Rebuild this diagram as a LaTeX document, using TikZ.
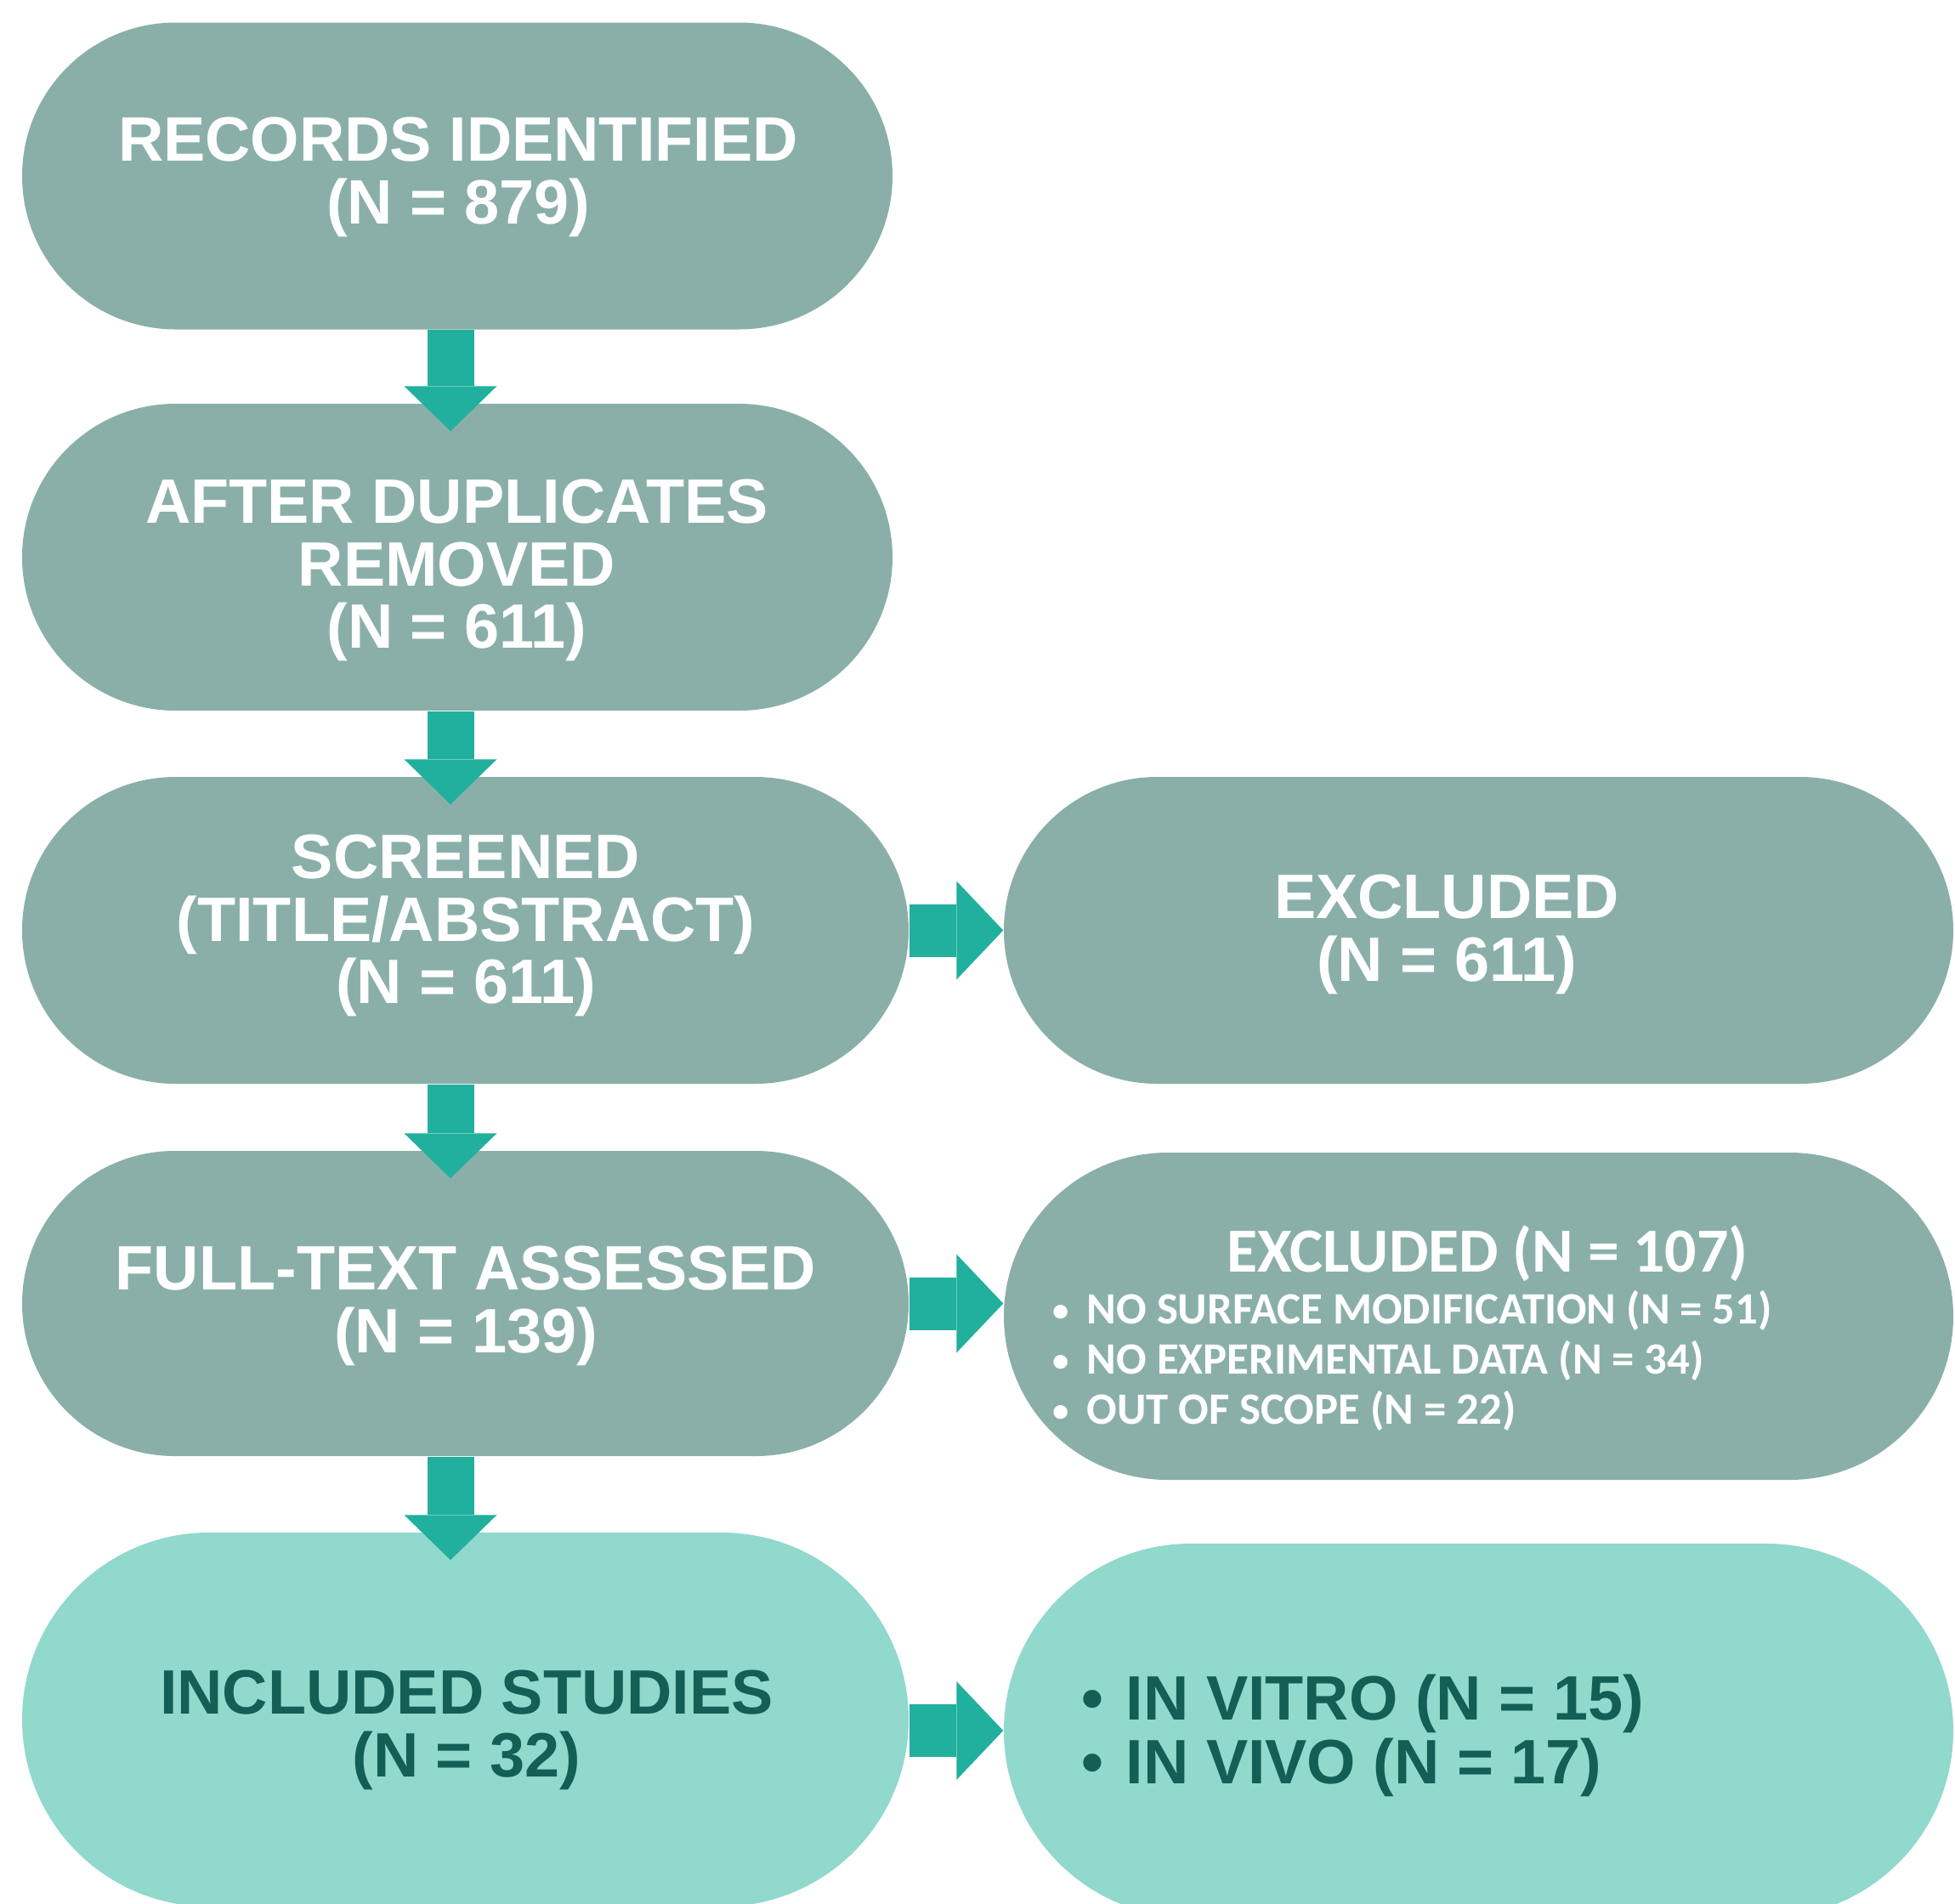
\documentclass[tikz,border=0pt]{standalone}
\usepackage{fontspec}
\setmainfont{Liberation Sans}
\newfontfamily\calib{Carlito}
\usetikzlibrary{shapes.misc,arrows.meta}

\definecolor{boxgrey}{HTML}{8AAFA9}
\definecolor{boxteal}{HTML}{91D8CD}
\definecolor{arrowteal}{HTML}{22B09E}
\definecolor{darkteal}{HTML}{135E55}

\tikzset{
	box/.style={rounded rectangle, inner sep=0pt, fill=boxgrey},
	boxlight/.style={box, fill=boxteal},
	lbl/.style={font=\bfseries\fontsize{21}{21}\selectfont, text=white, align=center, inner sep=0pt},
	lbldark/.style={lbl, text=darkteal},
	lblnarrow/.style={font=\calib\bfseries\fontsize{15}{15}\selectfont, text=white, inner sep=0pt},
	downarrow/.style={draw=arrowteal, line width=5.5mm, -{Triangle[width=10.9mm, length=5.3mm, line width=0pt]}, shorten >=-3.3mm},
	sidearrow/.style={draw=arrowteal, line width=6.2mm, -{Triangle[width=11.6mm, length=5.5mm, line width=0pt]}}
}

\begin{document}
\begin{tikzpicture}
		\useasboundingbox (0,0) rectangle (23,-22.39);

		% boxes
		\node[box, minimum width=10.24cm, minimum height=3.61cm] (b1) at (5.38,-2.07) {};
		\node[box, minimum width=10.24cm, minimum height=3.61cm] (b2) at (5.38,-6.555) {};
		\node[box, minimum width=10.43cm, minimum height=3.61cm] (b3) at (5.475,-10.945) {};
		\node[box, minimum width=11.17cm, minimum height=3.61cm] (b4) at (17.395,-10.945) {};
		\node[box, minimum width=10.43cm, minimum height=3.59cm] (b5) at (5.475,-15.335) {};
		\node[box, minimum width=11.17cm, minimum height=3.85cm] (b6) at (17.395,-15.485) {};
		\node[boxlight, minimum width=10.43cm, minimum height=4.40cm] (b7) at (5.475,-20.23) {};
		\node[boxlight, minimum width=11.17cm, minimum height=4.40cm] (b8) at (17.395,-20.36) {};

		% labels
		\node[lbl] (t1) at (5.39,-2.085) {RECORDS IDENTIFIED\\(N = 879)};
		\node[lbl] (t2) at (5.375,-6.71) {AFTER DUPLICATES\\REMOVED\\(N = 611)};
		\node[lbl] (t3) at (5.48,-10.89) {SCREENED\\(TITLE/ABSTRACT)\\(N = 611)};
		\node[lbl] (t4) at (17.02,-10.995) {EXCLUDED\\(N = 611)};
		\node[lbl] (t5) at (5.48,-15.36) {FULL-TEXT ASSESSED\\(N = 139)};
		\node[lbl, font=\calib\bfseries\fontsize{21}{21}\selectfont, anchor=base] (t6) at (17.50,-14.96) {EXCLUDED (N = 107)};
		\foreach \reason [count=\i] in {NO SURFACE MODIFICATION (N = 51), NO EXPERIMENTAL DATA (N = 34), OUT OF SCOPE (N = 22)}
			\node[lblnarrow, anchor=base west] (x\i) at (12.38,{-15.57-0.59*(\i-1)}) {\makebox[0.40cm][l]{\fontsize{11}{11}\selectfont\raisebox{0.8pt}{•}}\reason};
		\node[lbldark] (t7) at (5.49,-20.35) {INCLUDED STUDIES\\(N = 32)};
		\foreach \study [count=\i] in {IN VITRO (N = 15), IN VIVO (N = 17)}
			\node[lbldark, anchor=base west] (v\i) at (12.72,{-20.23-0.75*(\i-1)}) {\makebox[0.52cm][l]{•}\study};

		% arrows
		\coordinate (spine) at (5.30,0);
		\draw[downarrow] (b1.south -| spine) -- (b2.north -| spine);
		\draw[downarrow] (b2.south -| spine) -- (b3.north -| spine);
		\draw[downarrow] (b3.south -| spine) -- (b5.north -| spine);
		\draw[downarrow] (b5.south -| spine) -- (b7.north -| spine);
		\draw[sidearrow] (b3.east) -- (b4.west);
		\draw[sidearrow] (b5.east) -- (b5.east -| b6.west);
		\draw[sidearrow] (b7.east |- b8.west) -- (b8.west);
\end{tikzpicture}
\end{document}
